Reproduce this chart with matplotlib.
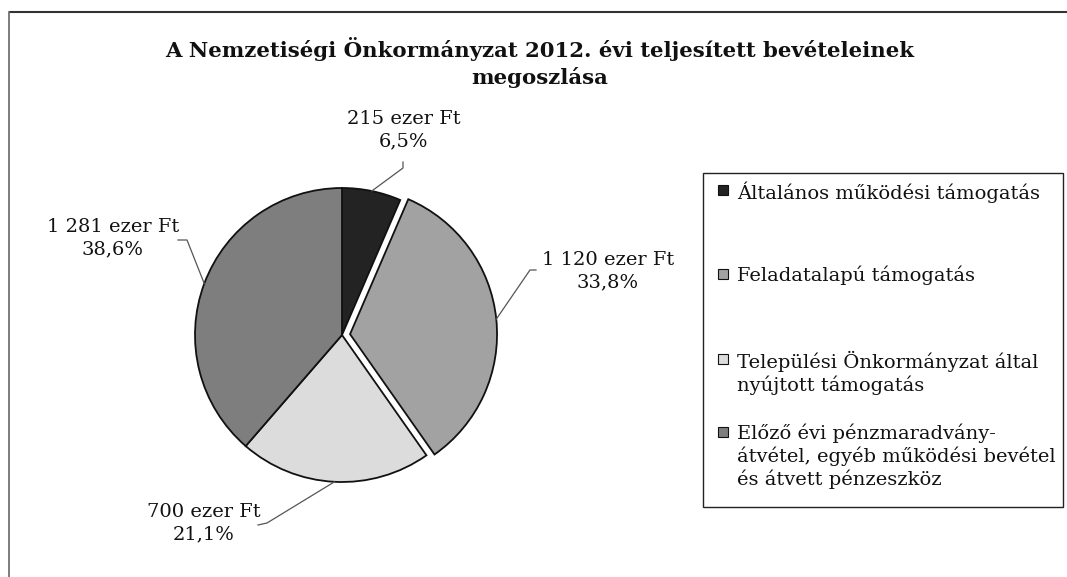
import matplotlib
matplotlib.use("Agg")
import matplotlib.pyplot as plt
from matplotlib.patches import Rectangle
import numpy as np

# ---- data ----
categories = [
    "Általános működési támogatás",
    "Feladatalapú támogatás",
    "Települési Önkormányzat által\nnyújtott támogatás",
    "Előző évi pénzmaradvány-\nátvétel, egyéb működési bevétel\nés átvett pénzeszköz",
]
values = [215, 1120, 700, 1281]          # ezer Ft
value_labels = ["215 ezer Ft", "1 120 ezer Ft", "700 ezer Ft", "1 281 ezer Ft"]
pct_labels = ["6,5%", "33,8%", "21,1%", "38,6%"]
title = "A Nemzetiségi Önkormányzat 2012. évi teljesített bevételeinek\nmegoszlása"

# ---- style ----
colors = ["#232323", "#a2a2a2", "#dcdcdc", "#7e7e7e"]
explode = [0, 0.055, 0, 0]
W, H = 1067, 577
cx, cy, R = 342, 335, 147  # pixel centre / radius of pie

# label text centres (pixels) and elbow points (pixels)
label_px = [(404, 130), (608, 271), (204, 523), (113, 238)]
elbow_px = [[(403, 162), (403, 168)], [(536, 270), (530, 270)],
            [(258, 525), (267, 523)], [(178, 240), (187, 240)]]
legend_first_line_y = [190, 274, 359, 432]

def px(x, y):
    return ((x - cx) / R, (cy - y) / R)

fig = plt.figure(figsize=(W / 100, H / 100), dpi=100)
ax = fig.add_axes([0, 0, 1, 1])

wedges, _ = ax.pie(values, colors=colors, explode=explode, startangle=90,
                   counterclock=False, radius=1,
                   wedgeprops=dict(edgecolor="#111111", linewidth=1.3))
ax.set_aspect("auto")
ax.set_xlim(-cx / R, (W - cx) / R)
ax.set_ylim(-(H - cy) / R, cy / R)
ax.axis("off")

font = "DejaVu Serif"
for i, w in enumerate(wedges):
    mid = np.deg2rad((w.theta1 + w.theta2) / 2)
    r = 1 + explode[i]
    p_edge = (r * np.cos(mid), r * np.sin(mid))
    pts = [px(*e) for e in elbow_px[i]] + [p_edge]
    ax.plot([p[0] for p in pts], [p[1] for p in pts], color="#555555", lw=0.9)
    tx, ty = px(*label_px[i])
    ax.text(tx, ty, f"{value_labels[i]}\n{pct_labels[i]}", ha="center", va="center",
            fontsize=14, family=font, linespacing=1.3, color="#111111")

# chart frame (top and left visible)
ax.plot([px(10, 12)[0], px(1067, 12)[0]], [px(10, 12)[1]] * 2, color="#333333", lw=1.5, clip_on=False)
ax.plot([px(9, 12)[0]] * 2, [px(9, 12)[1], px(9, 577)[1]], color="#666666", lw=1.2, clip_on=False)

fig.text(540 / W, 1 - 62.5 / H, title, ha="center", va="center", fontsize=15.3,
         fontweight="bold", family=font, linespacing=1.32, color="#111111")

# legend (drawn in pixel layout, marker aligned with first text line)
lx0, ly0, lx1, ly1 = 703, 173, 1063, 507
ax.add_patch(Rectangle(px(lx0, ly1), (lx1 - lx0) / R, (ly1 - ly0) / R, fill=False,
                       edgecolor="#222222", lw=1.0, clip_on=False))
for i, lab in enumerate(categories):
    y = legend_first_line_y[i]
    ax.add_patch(Rectangle(px(718, y + 5), 10 / R, 10 / R, facecolor=colors[i],
                           edgecolor="#111111", lw=0.8, clip_on=False))
    tx, ty = px(737, y - 8.5)
    ax.text(tx, ty, lab, ha="left", va="top", fontsize=14, family=font,
            linespacing=1.22, color="#111111")

fig.savefig("out.png", dpi=100)
